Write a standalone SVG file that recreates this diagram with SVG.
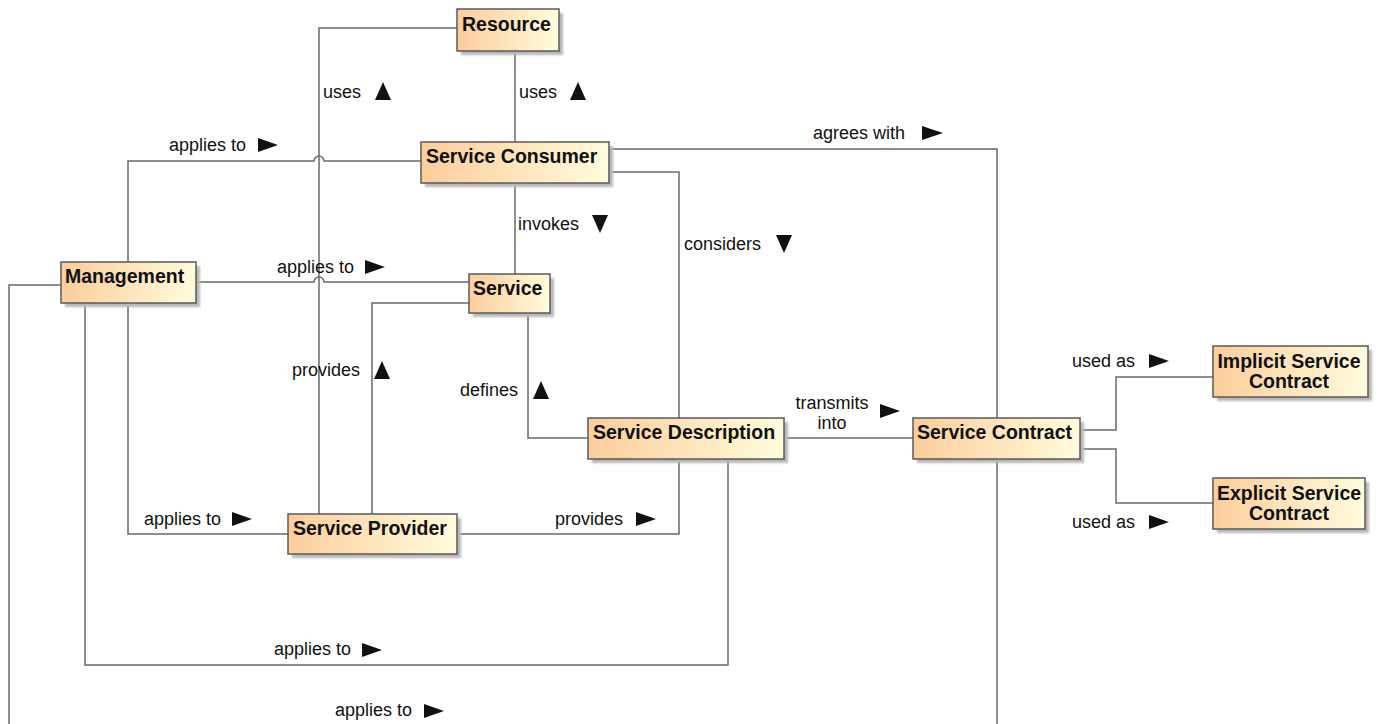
<svg xmlns="http://www.w3.org/2000/svg" width="1381" height="724" viewBox="0 0 1381 724">
<defs>
<linearGradient id="g" x1="0" y1="0" x2="1" y2="0">
<stop offset="0" stop-color="#FCCD9C"/>
<stop offset="1" stop-color="#FFFCDC"/>
</linearGradient>
<filter id="sh" x="-10%" y="-10%" width="130%" height="140%">
<feGaussianBlur stdDeviation="1"/>
</filter>
<style>
.box{fill:url(#g);stroke:#5a5a5a;stroke-width:1.5}
.shadow{fill:#b8b8b8;filter:url(#sh)}
.nt{font-family:"Liberation Sans",Arial,sans-serif;font-weight:bold;font-size:19.5px;fill:#111}
.lt{font-family:"Liberation Sans",Arial,sans-serif;font-size:18px;fill:#111}
.c{fill:none;stroke:#6a6a6a;stroke-width:1.5}
.tri{fill:#111}
</style>
</defs>
<rect width="1381" height="724" fill="#ffffff"/>
<g id="connectors">
<path class="c" d="M457,28 H319 V514"/>
<path class="c" d="M515,51 V142"/>
<path class="c" d="M128,262 V161 H314 A5,5 0 0 1 324,161 H421"/>
<path class="c" d="M196,282 H314 A5,5 0 0 1 324,282 H469"/>
<path class="c" d="M515,183 V274"/>
<path class="c" d="M609,172 H679 V418"/>
<path class="c" d="M609,149 H997 V418"/>
<path class="c" d="M528,313 V438 H588"/>
<path class="c" d="M372,514 V303 H469"/>
<path class="c" d="M128,303 V534 H288"/>
<path class="c" d="M457,534 H679 V459"/>
<path class="c" d="M85,303 V665 H728 V459"/>
<path class="c" d="M61,285 H9 V730"/>
<path class="c" d="M997,459 V730"/>
<path class="c" d="M784,438 H913"/>
<path class="c" d="M1080,430 H1116 V377 H1213"/>
<path class="c" d="M1080,449 H1116 V503 H1213"/>
<g id="labels">
<text class="lt" x="323" y="98">uses</text><polygon class="tri" points="375,100 383,82 391,100"/>
<text class="lt" x="519" y="98">uses</text><polygon class="tri" points="570,100 578,82 586,100"/>
<text class="lt" x="169" y="151">applies to</text><polygon class="tri" points="258,138 278,145 258,152"/>
<text class="lt" x="813" y="139">agrees with</text><polygon class="tri" points="922,126 943,133 922,140"/>
<text class="lt" x="518" y="230">invokes</text><polygon class="tri" points="592,215 600,233 608,215"/>
<text class="lt" x="684" y="250">considers</text><polygon class="tri" points="776,235 784,253 792,235"/>
<text class="lt" x="277" y="273">applies to</text><polygon class="tri" points="365,260 385,267 365,274"/>
<text class="lt" x="292" y="376">provides</text><polygon class="tri" points="374,379 382,361 390,379"/>
<text class="lt" x="460" y="396">defines</text><polygon class="tri" points="533,399 541,381 549,399"/>
<text class="lt" x="1072" y="367">used as</text><polygon class="tri" points="1149,354 1169,361 1149,368"/>
<text class="lt" x="832" y="409" text-anchor="middle">transmits</text>
<text class="lt" x="832" y="429" text-anchor="middle">into</text><polygon class="tri" points="880,404 900,411 880,418"/>
<text class="lt" x="144" y="525">applies to</text><polygon class="tri" points="232,512 252,519 232,526"/>
<text class="lt" x="555" y="525">provides</text><polygon class="tri" points="636,512 656,519 636,526"/>
<text class="lt" x="1072" y="528">used as</text><polygon class="tri" points="1149,515 1169,522 1149,529"/>
<text class="lt" x="274" y="655">applies to</text><polygon class="tri" points="362,643 382,650 362,657"/>
<text class="lt" x="335" y="716">applies to</text><polygon class="tri" points="424,704 444,711 424,718"/>
</g>
</g>
<g id="resource"><rect class="shadow" x="461" y="13" width="102" height="42"/><rect class="box" x="457" y="9" width="102" height="42"/><text class="nt" x="462" y="31">Resource</text></g>
<g id="service-consumer"><rect class="shadow" x="425" y="146" width="188" height="41"/><rect class="box" x="421" y="142" width="188" height="41"/><text class="nt" x="426" y="163">Service Consumer</text></g>
<g id="management"><rect class="shadow" x="65" y="266" width="135" height="41"/><rect class="box" x="61" y="262" width="135" height="41"/><text class="nt" x="65" y="283">Management</text></g>
<g id="service"><rect class="shadow" x="473" y="278" width="81" height="39"/><rect class="box" x="469" y="274" width="81" height="39"/><text class="nt" x="473" y="295">Service</text></g>
<g id="service-description"><rect class="shadow" x="592" y="422" width="196" height="41"/><rect class="box" x="588" y="418" width="196" height="41"/><text class="nt" x="593" y="439">Service Description</text></g>
<g id="service-provider"><rect class="shadow" x="292" y="518" width="169" height="40"/><rect class="box" x="288" y="514" width="169" height="40"/><text class="nt" x="293" y="535">Service Provider</text></g>
<g id="service-contract"><rect class="shadow" x="917" y="422" width="167" height="41"/><rect class="box" x="913" y="418" width="167" height="41"/><text class="nt" x="917" y="439">Service Contract</text></g>
<g id="implicit-service-contract"><rect class="shadow" x="1217" y="350" width="155" height="51"/><rect class="box" x="1213" y="346" width="155" height="51"/><text class="nt" x="1289" y="368" text-anchor="middle">Implicit Service</text><text class="nt" x="1289" y="388" text-anchor="middle">Contract</text></g>
<g id="explicit-service-contract"><rect class="shadow" x="1217" y="482" width="152" height="51"/><rect class="box" x="1213" y="478" width="152" height="51"/><text class="nt" x="1289" y="500" text-anchor="middle">Explicit Service</text><text class="nt" x="1289" y="520" text-anchor="middle">Contract</text></g>
</svg>
